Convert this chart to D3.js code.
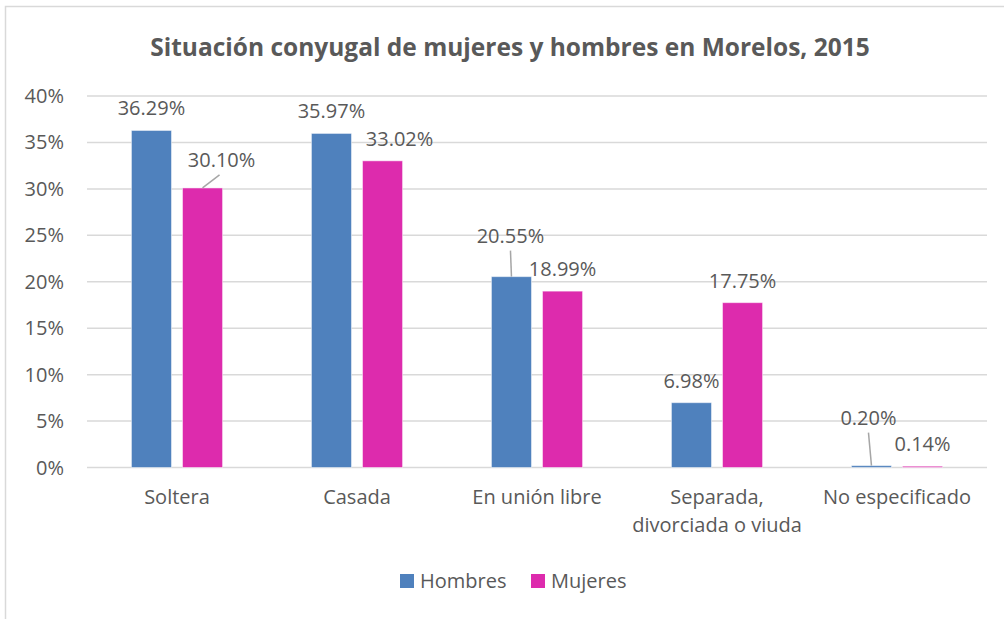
<!DOCTYPE html>
<html>
<head>
<meta charset="utf-8">
<script src="https://cdn.jsdelivr.net/npm/d3@7"></script>
<style>
  body { margin: 0; background: #fff; }
  text { font-family: "Open Sans", sans-serif; fill: #595959; }
</style>
</head>
<body>
<svg id="chart"></svg>
<script>
// datos
const categorias = ["Soltera", "Casada", "En unión libre", "Separada,\ndivorciada o viuda", "No especificado"]
const series = ["Hombres", "Mujeres"]
const hombres = [36.29, 35.97, 20.55, 6.98, 0.20]
const mujeres = [30.10, 33.02, 18.99, 17.75, 0.14]
const ticks = [0, 5, 10, 15, 20, 25, 30, 35, 40]
const colores = ["#4f81bd", "#dd2bad"]

const width = 1004, height = 619
const svg = d3.select("#chart").attr("width", width).attr("height", height)

// marco
svg.append("path").attr("d", "M5.5,619 V6.5 H1004")
  .attr("fill", "none").attr("stroke", "#d9d9d9").attr("stroke-width", 1.5)

svg.append("text")
  .attr("x", 510).attr("y", 56)
  .attr("text-anchor", "middle")
  .style("font-size", "24.5px").style("font-weight", "bold")
  .text("Situación conyugal de mujeres y hombres en Morelos, 2015")

const x0 = d3.scaleBand().domain(categorias).range([87, 987])
const x1 = d3.scaleBand().domain(series).range([0, x0.bandwidth()])
  .paddingInner(0.215).paddingOuter(0.87)
const y = d3.scaleLinear().domain([0, 40]).range([467.5, 96])

// rejilla
svg.append("g").selectAll("line").data(ticks).enter().append("line")
  .attr("x1", 87).attr("x2", 987)
  .attr("y1", d => y(d)).attr("y2", d => y(d))
  .attr("stroke", "#d9d9d9").attr("stroke-width", 1.5)

svg.append("g").selectAll("text").data(ticks).enter().append("text")
  .attr("x", 64).attr("y", d => y(d) + 7)
  .attr("text-anchor", "end")
  .style("font-size", "20px")
  .text(d => d + "%")

const filas = categorias.map((c, i) => ({ cat: c, vals: [hombres[i], mujeres[i]] }))

const grupos = svg.append("g").selectAll("g").data(filas).enter().append("g")
  .attr("transform", d => "translate(" + x0(d.cat) + ",0)")

grupos.selectAll("rect")
  .data(d => d.vals.map((v, j) => ({ s: series[j], v: v, j: j })))
  .enter().append("rect")
  .attr("x", d => x1(d.s))
  .attr("y", d => y(d.v))
  .attr("width", x1.bandwidth())
  .attr("height", d => y(0) - y(d.v))
  .attr("fill", d => colores[d.j])
  .attr("stroke", "#fff").attr("stroke-opacity", 0.5).attr("stroke-width", 1)

// desplazamiento de etiquetas (dx, dy extra, línea guía)
const ajuste = {
  "0-1": [19, -6, true],
  "1-1": [17, 0, false],
  "2-0": [-1, -19, true],
  "4-0": [-3, -26, true]
}

filas.forEach((f, i) => {
  f.vals.forEach((v, j) => {
    const cx = x0(f.cat) + x1(series[j]) + x1.bandwidth() / 2
    const top = y(v)
    const a = ajuste[i + "-" + j] || [0, 0, false]
    const lx = cx + a[0], ly = top - 22 + a[1]
    if (a[2]) {
      svg.append("line")
        .attr("x1", cx).attr("y1", top)
        .attr("x2", a[0] > 10 ? lx - 2 : lx).attr("y2", ly + 15)
        .attr("stroke", "#a6a6a6").attr("stroke-width", 1.5)
    }
    svg.append("text")
      .attr("x", lx).attr("y", ly + 7)
      .attr("text-anchor", "middle")
      .style("font-size", "20px")
      .text(v.toFixed(2) + "%")
  })
})

// etiquetas del eje x
svg.append("g").selectAll("text").data(categorias).enter().append("text")
  .attr("x", d => x0(d) + x0.bandwidth() / 2)
  .attr("y", 504)
  .attr("text-anchor", "middle")
  .style("font-size", "20px")
  .each(function (d) {
    const t = d3.select(this)
    d.split("\n").forEach((linea, k) => {
      t.append("tspan").attr("x", x0(d) + x0.bandwidth() / 2)
        .attr("dy", k === 0 ? 0 : 28).text(linea)
    })
  })

// leyenda
const leyX = [400, 531]
const ley = svg.append("g").selectAll("g").data(series).enter().append("g")
ley.append("rect")
  .attr("x", (d, i) => leyX[i]).attr("y", 574)
  .attr("width", 14).attr("height", 14)
  .attr("fill", (d, i) => colores[i])
ley.append("text")
  .attr("x", (d, i) => leyX[i] + 20).attr("y", 588)
  .style("font-size", "20px")
  .text(d => d)
</script>
</body>
</html>
